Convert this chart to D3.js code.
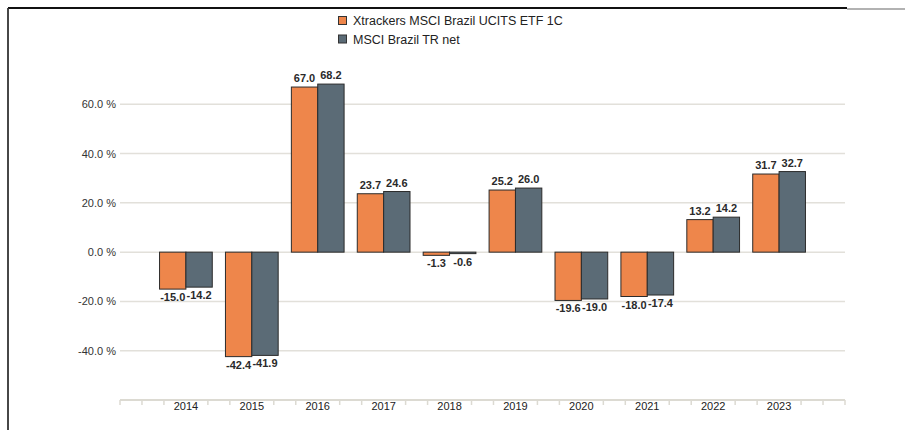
<!DOCTYPE html>
<meta charset="utf-8">
<html lang="en">
<head>
    <title>Xtrackers MSCI Brazil</title>
    <script src="https://cdn.jsdelivr.net/npm/d3@7"></script>
</head>
<style>
    body { margin: 0; background: #fff; }
    text { font-family: "Liberation Sans", Arial, sans-serif; fill: #333; }
    .grid line { stroke: #e2e0da; stroke-width: 1.5px; }
    .bar { stroke: #2b2b2b; stroke-width: 1px; }
    .val { font-size: 11px; font-weight: bold; fill: #2a2a2a; text-anchor: middle; }
    .ylab { font-size: 11px; text-anchor: end; }
    .xlab { font-size: 11px; text-anchor: middle; fill: #222; }
    .legend text { font-size: 12.5px; fill: #222; }
</style>
<body>
<script>
    var years = [2014, 2015, 2016, 2017, 2018, 2019, 2020, 2021, 2022, 2023];
    var etf = [-15.0, -42.4, 67.0, 23.7, -1.3, 25.2, -19.6, -18.0, 13.2, 31.7];
    var index = [-14.2, -41.9, 68.2, 24.6, -0.6, 26.0, -19.0, -17.4, 14.2, 32.7];
    var seriesNames = ["Xtrackers MSCI Brazil UCITS ETF 1C", "MSCI Brazil TR net"];
    var colors = ["#ee864b", "#5b6b76"];
    var yTicks = [-40, -20, 0, 20, 40, 60];

    var svg = d3.select("body").append("svg").attr("width", 905).attr("height", 430);

    // frame lines like the original page
    svg.append("line").attr("x1", 8).attr("x2", 847).attr("y1", 8).attr("y2", 8)
        .attr("stroke", "#111").attr("stroke-width", 2);
    svg.append("line").attr("x1", 847).attr("x2", 905).attr("y1", 9).attr("y2", 9)
        .attr("stroke", "#999").attr("stroke-width", 1.5);
    svg.append("line").attr("x1", 8).attr("x2", 8).attr("y1", 8).attr("y2", 430)
        .attr("stroke", "#333").attr("stroke-width", 1.8);

    var x = d3.scaleLinear().domain([2013, 2024]).range([120, 845]);
    var y = d3.scaleLinear().domain([-60, 80]).range([400, 55]);
    var step = x(2014) - x(2013);
    var bw = step * 0.4;

    // gridlines
    svg.append("g").attr("class", "grid").selectAll("line").data(yTicks).enter().append("line")
        .attr("x1", 120).attr("x2", 845)
        .attr("y1", d => y(d)).attr("y2", d => y(d));

    svg.append("g").selectAll("text").data(yTicks).enter().append("text")
        .attr("class", "ylab")
        .attr("x", 116).attr("y", d => y(d) + 4)
        .text(d => d.toFixed(1) + " %");

    // bottom axis with minor ticks
    var minor = d3.range(0, 34).map(i => 2013 + i / 3)
        .filter(v => !(Math.abs(v - Math.round(v)) < 1e-6 && Math.round(v) >= 2014 && Math.round(v) <= 2023));
    var ax = svg.append("g");
    ax.append("line").attr("x1", x(2013)).attr("x2", x(2024)).attr("y1", 400).attr("y2", 400)
        .attr("stroke", "#dcdad2").attr("stroke-width", 2);
    ax.selectAll(".tk").data(minor).enter().append("line")
        .attr("x1", d => x(d)).attr("x2", d => x(d)).attr("y1", 400).attr("y2", 405)
        .attr("stroke", "#dcdad2").attr("stroke-width", 1.5);
    ax.selectAll(".xlab").data(years).enter().append("text")
        .attr("class", "xlab").attr("x", d => x(d)).attr("y", 410).text(d => d);

    // bars
    [etf, index].forEach(function (vals, s) {
        var g = svg.append("g");
        g.selectAll("rect").data(vals).enter().append("rect")
            .attr("class", "bar")
            .attr("fill", colors[s])
            .attr("x", (d, i) => x(years[i]) - bw + s * bw)
            .attr("width", bw)
            .attr("y", d => y(Math.max(0, d)))
            .attr("height", d => Math.abs(y(d) - y(0)));
        g.selectAll("text").data(vals).enter().append("text")
            .attr("class", "val")
            .attr("x", (d, i) => x(years[i]) - bw / 2 + s * bw)
            .attr("y", d => d >= 0 ? y(d) - 5 : y(d) + 12)
            .text(d => d.toFixed(1));
    });

    // legend
    var lg = svg.append("g").attr("class", "legend");
    seriesNames.forEach(function (n, i) {
        lg.append("rect").attr("x", 338.5).attr("y", 16.5 + i * 18.5).attr("width", 8).attr("height", 8)
            .attr("fill", colors[i]).attr("stroke", "#333").attr("stroke-width", 1);
        lg.append("text").attr("x", 353).attr("y", 25 + i * 18.5).text(n);
    });
</script>
</body>
</html>
